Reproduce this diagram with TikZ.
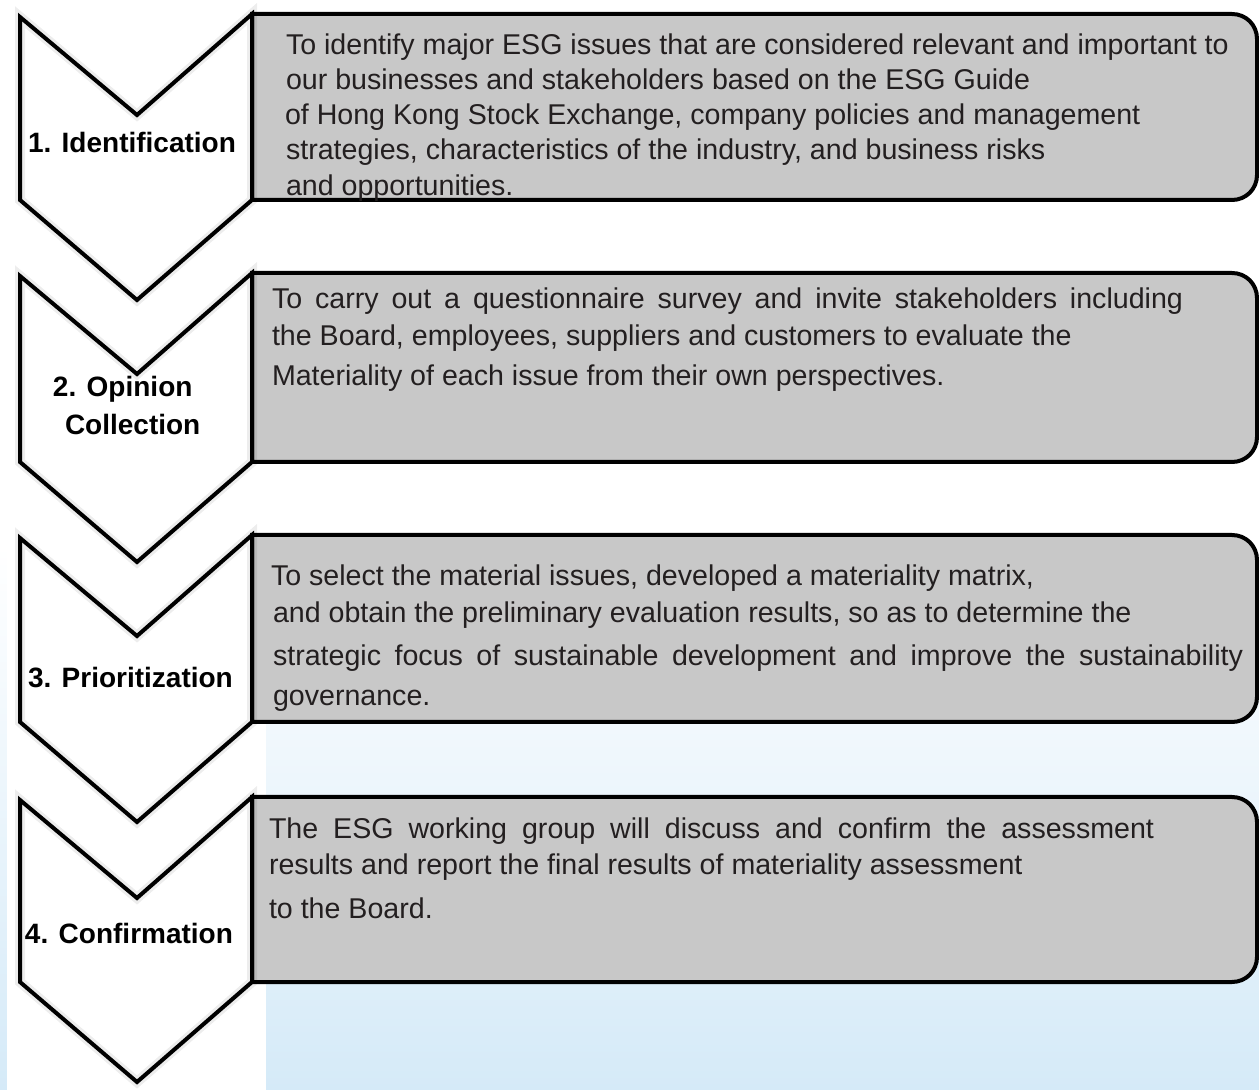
\documentclass[tikz,border=0pt]{standalone}
\usepackage{fontspec}
\setmainfont{Liberation Sans}
\definecolor{boxgray}{RGB}{200,200,200}
\definecolor{bgblue}{RGB}{213,234,248}
\definecolor{txt}{RGB}{35,31,32}
\begin{document}
\begin{tikzpicture}[x=0.5pt,y=-0.5pt,
  chevline/.style={draw=black, line width=2pt, line join=miter},
  glowline/.style={draw=black, line width=#1, opacity=0.07, line join=miter},
  descbox/.style={fill=boxgray, draw=black, line width=2pt},
  body/.style={anchor=base west, inner sep=0pt, outer sep=0pt, text=txt, font=\fontsize{14.3pt}{17pt}\selectfont},
  lab/.style={anchor=base west, inner sep=0pt, outer sep=0pt, text=black, font=\fontsize{14pt}{17pt}\selectfont\bfseries}]
\useasboundingbox (0,0) rectangle (1259,1090);
% background
\fill[white] (0,0) rectangle (1259,545);
\shade[top color=white, bottom color=bgblue] (0,545) rectangle (1259,1090);
\fill[white] (7,0) rectangle (266,1090);
% description boxes
\foreach \t/\b in {14/200, 273/462, 535/722, 797/982} {
  \draw[descbox] (252,\t) -- (1232,\t) .. controls (1246,\t) and (1257,\t+11) .. (1257,\t+25)
     -- (1257,\b-25) .. controls (1257,\b-11) and (1246,\b) .. (1232,\b) -- (252,\b) -- cycle;
}
% chevrons
\foreach \t/\b in {14/200, 273/462, 535/722, 797/982} {
  \fill[white] (20,\t+3) -- (137,\t+101) -- (252,\t) -- (252,\b) -- (137,\b+100) -- (20,\b) -- cycle;
  \draw[glowline=5pt] (20,\t+3) -- (137,\t+101) -- (252,\t) -- (252,\b) -- (137,\b+100) -- (20,\b) -- cycle;
  \draw[chevline] (20,\t+3) -- (137,\t+101) -- (252,\t) -- (252,\b) -- (137,\b+100) -- (20,\b) -- cycle;
}
% labels
\node[lab] (lab1) at (28,153) {1. Identification};
\node[lab] (lab2a) at (53,397) {2. Opinion};
\node[lab] (lab2b) at (65,435) {Collection};
\node[lab] (lab3) at (28,688) {3. Prioritization};
\node[lab] (lab4) at (25,943) {4. Confirmation};
% box 1 text
\node[body] (b1l1) at (286,55) {To identify major ESG issues that are considered relevant and important to};
\node[body] (b1l2) at (286,90) {our businesses and stakeholders based on the ESG Guide};
\node[body] (b1l3) at (285,125) {of Hong Kong Stock Exchange, company policies and management};
\node[body] (b1l4) at (286,160) {strategies, characteristics of the industry, and business risks};
\node[body] (b1l5) at (286,196) {and opportunities.};
% box 2 text
\node[body] (b2l1) at (272,309) {\hbox to 455.5pt{To carry out a questionnaire survey and invite stakeholders including}};
\node[body] (b2l2) at (272,346) {the Board, employees, suppliers and customers to evaluate the};
\node[body] (b2l3) at (272,386) {Materiality of each issue from their own perspectives.};
% box 3 text
\node[body] (b3l1) at (271,586) {To select the material issues, developed a materiality matrix,};
\node[body] (b3l2) at (273,623) {and obtain the preliminary evaluation results, so as to determine the};
\node[body] (b3l3) at (273,666) {\hbox to 485pt{strategic focus of sustainable development and improve the sustainability}};
\node[body] (b3l4) at (273,706) {governance.};
% box 4 text
\node[body] (b4l1) at (269,838) {\hbox to 442.5pt{The ESG working group will discuss and confirm the assessment}};
\node[body] (b4l2) at (269,874) {results and report the final results of materiality assessment};
\node[body] (b4l3) at (269,918) {to the Board.};
\end{tikzpicture}
\end{document}
